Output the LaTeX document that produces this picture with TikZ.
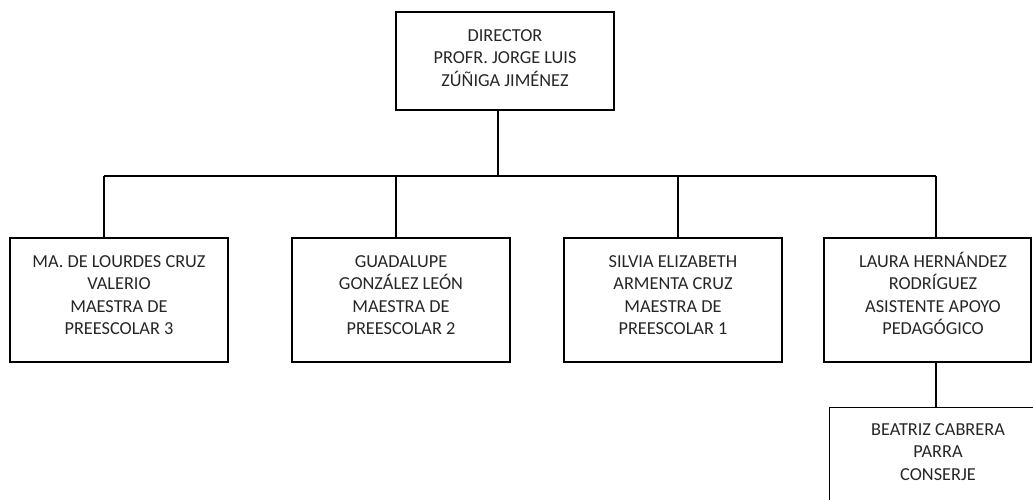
\documentclass[tikz,border=0pt]{standalone}
\usepackage{fontspec}
\setmainfont{Carlito}
\begin{document}
\begin{tikzpicture}[x=1pt,y=-1pt,
  box/.style={draw=black,line width=1.4pt,rectangle,inner sep=0pt},
  txt/.style={align=center,anchor=base,inner sep=0pt,text=black!85,font=\fontsize{18.3}{22.3}\selectfont},
  link/.style={draw=black,line width=1.4pt}]
\useasboundingbox (0,0) rectangle (1033,499);
\clip (0,0) rectangle (1033,499);
% boxes
\node[box,minimum width=218,minimum height=98] (dir) at (505,61) {};
\node[box,minimum width=218,minimum height=124] (b1) at (119,300) {};
\node[box,minimum width=218,minimum height=124] (b2) at (401,300) {};
\node[box,minimum width=218,minimum height=124] (b3) at (673,300) {};
\node[box,minimum width=207,minimum height=124] (b4) at (927.5,300) {};
\node[box,minimum width=218,minimum height=124,anchor=north west] (b5) at (829,407) {};
% texts
\node[txt] (tdir) at (505,86) {DIRECTOR\\PROFR. JORGE LUIS\\ZÚÑIGA JIMÉNEZ};
\node[txt] (t1) at (119,334.3) {MA. DE LOURDES CRUZ\\VALERIO\\MAESTRA DE\\PREESCOLAR 3};
\node[txt] (t2) at (401,334.3) {GUADALUPE\\GONZÁLEZ LEÓN\\MAESTRA DE\\PREESCOLAR 2};
\node[txt] (t3) at (673,334.3) {SILVIA ELIZABETH\\ARMENTA CRUZ\\MAESTRA DE\\PREESCOLAR 1};
\node[txt] (t4) at (933,334.3) {LAURA HERNÁNDEZ\\RODRÍGUEZ\\ASISTENTE APOYO\\PEDAGÓGICO};
\node[txt] (t5) at (938,480) {BEATRIZ CABRERA\\PARRA\\CONSERJE};
% connectors
\coordinate (j) at (498,176);
\coordinate (d1) at (104,176);
\coordinate (d2) at (396,176);
\coordinate (d3) at (678,176);
\coordinate (d4) at (936,176);
\draw[link] (dir.south -| j) -- (j);
\draw[link] (d1) -- (d4);
\draw[link] (d1) -- (d1 |- b1.north);
\draw[link] (d2) -- (d2 |- b2.north);
\draw[link] (d3) -- (d3 |- b3.north);
\draw[link] (d4) -- (d4 |- b4.north);
\draw[link] (d4 |- b4.south) -- (d4 |- b5.north);
\end{tikzpicture}
\end{document}
